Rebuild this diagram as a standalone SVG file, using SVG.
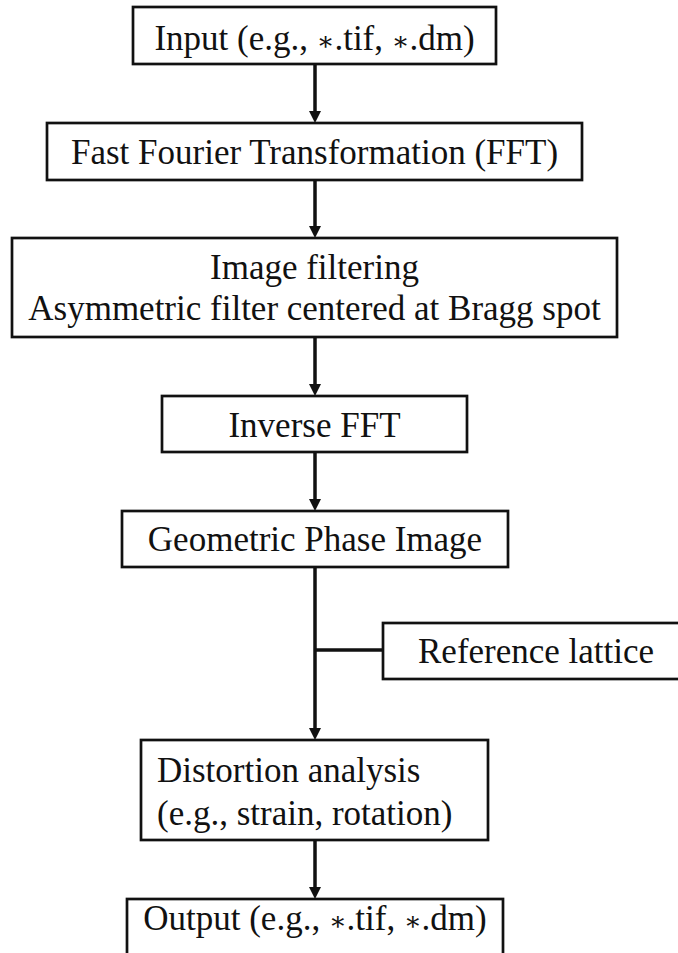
<svg xmlns="http://www.w3.org/2000/svg" width="678" height="953" viewBox="0 0 678 953">
<defs>
<style>
.box{fill:#fff;stroke:#111;stroke-width:2.7}
.t{font-family:'Liberation Serif','Times New Roman','DejaVu Serif',serif;font-size:35px;fill:#111}
.c{text-anchor:middle}
.s{font-family:'DejaVu Serif',serif;font-size:26px}
.ln{stroke:#111;stroke-width:3.5;fill:none}
</style>
<marker id="ah" markerWidth="12" markerHeight="12" refX="2" refY="6" orient="auto" markerUnits="userSpaceOnUse">
<path d="M0,0 L12,6 L0,12 z" fill="#111"/>
</marker>
</defs>
<rect width="678" height="953" fill="#fff"/>
<g id="connectors">
<line class="ln" x1="315" y1="64" x2="315" y2="113" marker-end="url(#ah)"/>
<line class="ln" x1="315" y1="180" x2="315" y2="228" marker-end="url(#ah)"/>
<line class="ln" x1="315" y1="337" x2="315" y2="386" marker-end="url(#ah)"/>
<line class="ln" x1="315" y1="452" x2="315" y2="501" marker-end="url(#ah)"/>
<line class="ln" x1="315" y1="567" x2="315" y2="730" marker-end="url(#ah)"/>
<line class="ln" x1="315" y1="650" x2="383" y2="650"/>
<line class="ln" x1="315" y1="840" x2="315" y2="889" marker-end="url(#ah)"/>
</g>
<g id="input">
<rect class="box" x="133" y="7" width="363" height="57"/>
<text class="t c" x="314.5" y="50" font-family="Liberation Serif, serif">Input (e.g., <tspan class="s">∗</tspan>.tif, <tspan class="s">∗</tspan>.dm)</text>
</g>
<g id="fft">
<rect class="box" x="47" y="123" width="535" height="57"/>
<text class="t c" x="314.5" y="164">Fast Fourier Transformation (FFT)</text>
</g>
<g id="filtering">
<rect class="box" x="12" y="238" width="605" height="99"/>
<text class="t c" x="314.5" y="279">Image filtering</text>
<text class="t c" x="314.5" y="320">Asymmetric filter centered at Bragg spot</text>
</g>
<g id="ifft">
<rect class="box" x="162" y="396" width="305" height="56"/>
<text class="t c" x="314.5" y="437">Inverse FFT</text>
</g>
<g id="gpi">
<rect class="box" x="122" y="511" width="386" height="56"/>
<text class="t c" x="315" y="551">Geometric Phase Image</text>
</g>
<g id="reference">
<rect class="box" x="383" y="623" width="310" height="56"/>
<text class="t" x="418" y="663">Reference lattice</text>
</g>
<g id="distortion">
<rect class="box" x="141" y="740" width="347" height="100"/>
<text class="t" x="157" y="782">Distortion analysis</text>
<text class="t" x="157" y="825">(e.g., strain, rotation)</text>
</g>
<g id="output">
<rect class="box" x="127" y="899" width="376" height="70"/>
<text class="t c" x="315" y="930">Output (e.g., <tspan class="s">∗</tspan>.tif, <tspan class="s">∗</tspan>.dm)</text>
</g>
</svg>
